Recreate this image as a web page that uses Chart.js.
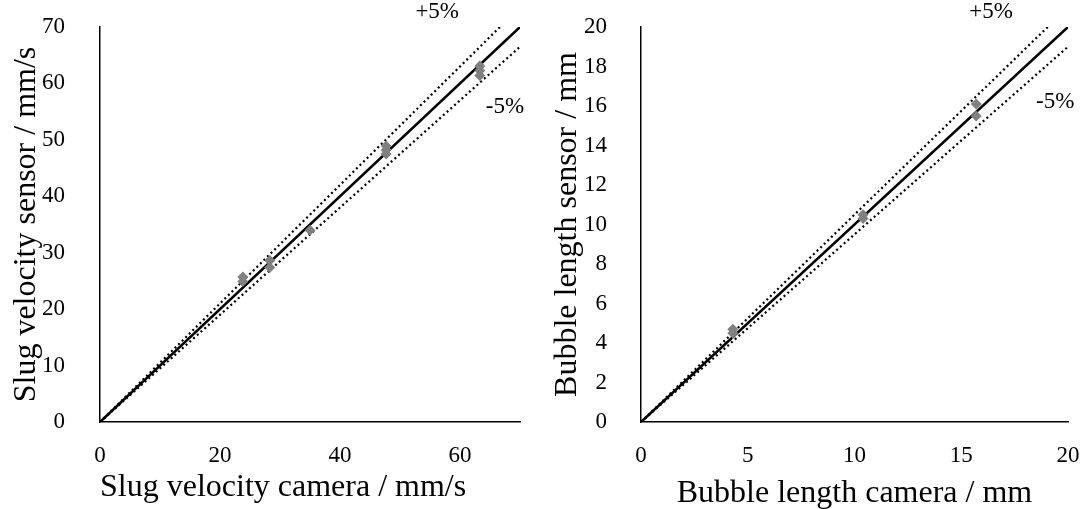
<!DOCTYPE html>
<html>
<head>
<meta charset="utf-8">
<script src="https://cdn.jsdelivr.net/npm/chart.js@4/dist/chart.umd.min.js"></script>
<style>
  html, body { margin: 0; padding: 0; background: #fff; }
  #wrap { position: relative; width: 1087px; height: 509px; overflow: hidden; }
  .box { position: absolute; top: 0; height: 509px; }
  #leftBox { left: 0; width: 543px; }
  #rightBox { left: 543px; width: 544px; }
</style>
</head>
<body>
<div id="wrap">
  <div class="box" id="leftBox"><canvas id="slugChart"></canvas></div>
  <div class="box" id="rightBox"><canvas id="bubbleChart"></canvas></div>
</div>
<script>
// Slug velocity (left panel)
const slugCamera = [23.8, 23.8, 28.3, 28.3, 35.0, 47.7, 47.7, 47.7, 63.3, 63.3, 63.3];
const slugSensor = [25.7, 24.9, 28.6, 27.4, 34.0, 48.9, 48.2, 47.5, 63.1, 62.3, 61.4];
const slugXTicks = [0, 20, 40, 60];
const slugYTicks = [0, 10, 20, 30, 40, 50, 60, 70];

// Bubble length (right panel)
const bubbleCamera = [4.3, 4.3, 10.4, 10.4, 15.7, 15.7];
const bubbleSensor = [4.7, 4.5, 10.5, 10.3, 16.1, 15.5];
const bubbleXTicks = [0, 5, 10, 15, 20];
const bubbleYTicks = [0, 2, 4, 6, 8, 10, 12, 14, 16, 18, 20];

const band = 0.05;
const FONT = "'Palatino Linotype', 'Book Antiqua', Palatino, 'Liberation Serif', serif";

// draws the +5% / -5% labels at data positions
const bandLabels = {
  id: 'bandLabels',
  afterDatasetsDraw(chart, args, opts) {
    const { ctx, scales } = chart;
    ctx.save();
    ctx.font = '23px ' + FONT;
    ctx.fillStyle = '#000';
    ctx.textAlign = 'center';
    ctx.textBaseline = 'middle';
    opts.items.forEach(it => {
      ctx.fillText(it.text, scales.x.getPixelForValue(it.x), scales.y.getPixelForValue(it.y));
    });
    ctx.restore();
  }
};

function makeChart(id, cfg) {
  const pts = cfg.cam.map((v, i) => ({ x: v, y: cfg.sens[i] }));
  const max = cfg.max;
  const lineDs = (k, dash, w) => ({
    data: [{ x: 0, y: 0 }, { x: max, y: max * k }],
    showLine: true,
    borderColor: '#000',
    borderWidth: w,
    borderDash: dash,
    pointRadius: 0,
    order: 2
  });

  return new Chart(document.getElementById(id), {
    type: 'scatter',
    data: {
      datasets: [
        {
          data: pts,
          pointStyle: 'rectRot',
          pointRadius: 5.5,
          backgroundColor: '#808080',
          borderColor: '#808080',
          borderWidth: 0,
          order: 1
        },
        lineDs(1, [], 2.6),
        lineDs(1 + band, [2, 3], 2.2),
        lineDs(1 - band, [2, 3], 2.2)
      ]
    },
    options: {
      responsive: true,
      maintainAspectRatio: false,
      animation: false,
      layout: { padding: { top: 27, right: cfg.padRight, left: 0, bottom: 0 } },
      plugins: {
        legend: { display: false },
        tooltip: { enabled: false },
        bandLabels: { items: cfg.labels }
      },
      scales: {
        x: {
          type: 'linear',
          min: 0,
          max: max,
          afterBuildTicks: s => { s.ticks = cfg.xTicks.map(v => ({ value: v })); },
          afterFit: s => { s.height = 87; s.paddingLeft = 0; s.paddingRight = 0; },
          grid: { display: false },
          border: { display: true, color: '#000', width: 1.5 },
          ticks: { color: '#000', padding: 12, maxRotation: 0, font: { family: FONT, size: 23 } },
          title: {
            display: true,
            text: cfg.xTitle,
            align: cfg.xAlign,
            color: '#000',
            padding: { top: 0, bottom: cfg.xTitlePad },
            font: { family: FONT, size: 32 }
          }
        },
        y: {
          type: 'linear',
          min: 0,
          max: max,
          afterBuildTicks: s => { s.ticks = cfg.yTicks.map(v => ({ value: v })); },
          afterFit: s => { s.width = cfg.yWidth; s.paddingTop = 0; s.paddingBottom = 0; },
          grid: { display: false },
          border: { display: true, color: '#000', width: 1.5 },
          ticks: { color: '#000', padding: cfg.yTickPad, font: { family: FONT, size: 23 } },
          title: {
            display: true,
            text: cfg.yTitle,
            color: '#000',
            padding: { top: cfg.yTitlePad, bottom: 0 },
            font: { family: FONT, size: 32 }
          }
        }
      }
    },
    plugins: [bandLabels]
  });
}

makeChart('slugChart', {
  cam: slugCamera, sens: slugSensor, max: 70,
  xTicks: slugXTicks, yTicks: slugYTicks,
  xTitle: 'Slug velocity camera / mm/s', yTitle: 'Slug velocity sensor / mm/s',
  xAlign: 'start', xTitlePad: 2, yTitlePad: 7, yWidth: 100, yTickPad: 27, padRight: 23,
  labels: [{ text: '+5%', x: 56.2, y: 72.6 }, { text: '-5%', x: 67.5, y: 55.9 }]
});

makeChart('bubbleChart', {
  cam: bubbleCamera, sens: bubbleSensor, max: 20,
  xTicks: bubbleXTicks, yTicks: bubbleYTicks,
  xTitle: 'Bubble length camera / mm', yTitle: 'Bubble length sensor / mm',
  xAlign: 'center', xTitlePad: -4, yTitlePad: 5, yWidth: 98, yTickPad: 26, padRight: 19,
  labels: [{ text: '+5%', x: 16.4, y: 20.76 }, { text: '-5%', x: 19.4, y: 16.2 }]
});
</script>
</body>
</html>
